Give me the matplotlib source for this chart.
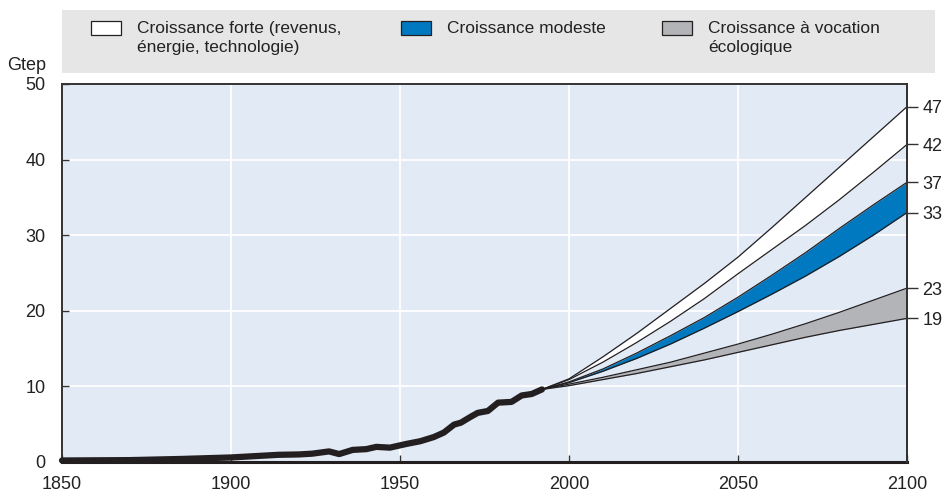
import matplotlib
matplotlib.use("Agg")
import matplotlib.pyplot as plt
from matplotlib.patches import Rectangle

plt.rcParams['font.family'] = ['Liberation Sans', 'DejaVu Sans']

# Historical world primary energy (Gtep)
hist_years = [1850, 1870, 1885, 1900, 1910, 1914, 1920, 1924, 1929, 1932, 1936, 1940,
              1943, 1947, 1952, 1956, 1960, 1963, 1966, 1968, 1971, 1973, 1976, 1979,
              1983, 1986, 1989, 1992]
hist_values = [0.2, 0.25, 0.4, 0.6, 0.85, 0.95, 1.0, 1.1, 1.4, 1.05, 1.6, 1.7,
               2.0, 1.9, 2.4, 2.75, 3.3, 3.9, 4.95, 5.2, 6.0, 6.5, 6.75, 7.85,
               7.95, 8.8, 9.0, 9.6]

# Projections
proj_years = [1992, 2000, 2010, 2020, 2030, 2040, 2050, 2060, 2070, 2080, 2090, 2100]
high_top = [9.6, 11.0, 13.9, 17.0, 20.3, 23.6, 27.1, 31.0, 35.0, 39.0, 43.0, 47]
high_bot = [9.6, 10.9, 13.2, 15.8, 18.6, 21.6, 24.9, 28.1, 31.3, 34.7, 38.3, 42]
mod_top = [9.6, 10.6, 12.3, 14.4, 16.7, 19.1, 21.8, 24.7, 27.7, 30.9, 34.0, 37]
mod_bot = [9.6, 10.5, 12.0, 13.7, 15.6, 17.7, 19.9, 22.2, 24.6, 27.2, 30.0, 33]
eco_top = [9.6, 10.3, 11.2, 12.2, 13.2, 14.4, 15.6, 16.9, 18.3, 19.8, 21.4, 23]
eco_bot = [9.6, 10.1, 10.9, 11.7, 12.6, 13.5, 14.5, 15.5, 16.5, 17.4, 18.2, 19]

end_labels = [47, 42, 37, 33, 23, 19]
x_ticks = [1850, 1900, 1950, 2000, 2050, 2100]
y_ticks = [0, 10, 20, 30, 40, 50]

legend_labels = ["Croissance forte (revenus,\nénergie, technologie)",
                 "Croissance modeste",
                 "Croissance à vocation\nécologique"]
legend_colors = ["#ffffff", "#0079c1", "#b3b4b7"]

W, H = 948, 495
fig = plt.figure(figsize=(W / 100, H / 100), dpi=100)

def fx(px):
    return px / W

def fy(py):
    return 1 - py / H

L, R, T, B = 62, 907, 84, 462
ax = fig.add_axes([fx(L), fy(B), fx(R - L), (B - T) / H])
ax.set_facecolor("#e2eaf6")
ax.set_xlim(1850, 2100)
ax.set_ylim(0, 50)

ax.set_xticks(x_ticks)
ax.set_yticks(y_ticks)
ax.grid(True, color="white", lw=1.3, zorder=0)
ax.set_axisbelow(True)
ax.tick_params(axis='both', direction='in', length=5, width=1, color="#333333",
               labelsize=13, labelcolor="#222222")
ax.tick_params(axis='y', pad=12)
ax.tick_params(axis='x', pad=10)
ax.tick_params(axis='y', right=False)

for s in ['left', 'right', 'top']:
    ax.spines[s].set_linewidth(1.4)
    ax.spines[s].set_color("#333333")
ax.spines['bottom'].set_linewidth(2.2)
ax.spines['bottom'].set_color("#231f20")

# Bands
c = legend_colors
ax.fill_between(proj_years, high_bot, high_top, color=c[0], zorder=2, lw=0)
ax.fill_between(proj_years, mod_bot, mod_top, color=c[1], zorder=2, lw=0)
ax.fill_between(proj_years, eco_bot, eco_top, color=c[2], zorder=2, lw=0)
for series in (high_top, high_bot, mod_top, mod_bot, eco_top, eco_bot):
    ax.plot(proj_years, series, color="#231f20", lw=0.9, zorder=3)

ax.plot(hist_years, hist_values, color="#231f20", lw=4.5, solid_capstyle='round',
        solid_joinstyle='round', zorder=4, clip_on=False)

# Right-side end labels
ax2 = ax.twinx()
ax2.set_ylim(0, 50)
ax2.set_yticks(end_labels)
ax2.tick_params(axis='y', direction='out', length=8, width=1, color="#333333",
                labelsize=13, labelcolor="#222222", pad=3)
for s in ['left', 'top', 'bottom']:
    ax2.spines[s].set_visible(False)
ax2.spines['right'].set_linewidth(1.4)
ax2.spines['right'].set_color("#333333")

# Legend band
fig.add_artist(Rectangle((fx(62), fy(73)), fx(935 - 62), (73 - 10) / H,
                         transform=fig.transFigure, facecolor="#e6e6e6",
                         edgecolor="none", zorder=0))
patch_x = [91, 401, 662]
text_x = [137, 447, 708]
for px_, tx, col, lab in zip(patch_x, text_x, legend_colors, legend_labels):
    fig.add_artist(Rectangle((fx(px_), fy(35)), fx(30), 14 / H,
                             transform=fig.transFigure, facecolor=col,
                             edgecolor="#231f20", lw=0.9, zorder=2))
    fig.text(fx(tx), fy(21), lab, ha='left', va='top', fontsize=12.5,
             color="#222222", linespacing=1.3)

fig.text(fx(27), fy(66), "Gtep", ha='center', va='center', fontsize=13,
         color="#222222")

fig.savefig("out.png", dpi=100)
